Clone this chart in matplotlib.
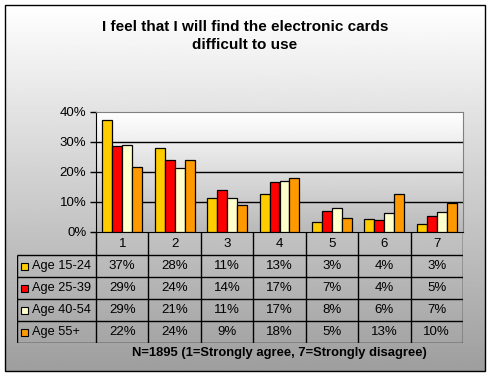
import numpy as np
import matplotlib
matplotlib.use("Agg")
import matplotlib.pyplot as plt
from matplotlib.patches import Rectangle

plt.rcParams['font.family'] = ['Liberation Sans', 'DejaVu Sans']

# ----- DATA -----
categories = ["1", "2", "3", "4", "5", "6", "7"]
groups = ["Age 15-24", "Age 25-39", "Age 40-54", "Age 55+"]
age_15_24 = [37.2, 27.9, 11.2, 12.6, 3.2, 4.2, 2.6]
age_25_39 = [28.6, 23.9, 13.9, 16.6, 6.9, 3.9, 5.2]
age_40_54 = [28.9, 21.2, 11.2, 17.0, 7.9, 6.2, 6.6]
age_55_up = [21.6, 23.9, 8.9, 17.9, 4.6, 12.6, 9.6]
series = [age_15_24, age_25_39, age_40_54, age_55_up]
colors = ["#FFCC00", "#FF0000", "#FFFFCC", "#FF9900"]
yticks = [0, 10, 20, 30, 40]
title = "I feel that I will find the electronic cards\ndifficult to use"
note = "N=1895 (1=Strongly agree, 7=Strongly disagree)"

W, H = 491, 377
fig = plt.figure(figsize=(W / 100, H / 100), dpi=100)
fig.patch.set_facecolor("white")

def rect(x0, y0, x1, y1):
    # pixel box (top-left origin) -> figure fraction
    return [x0 / W, (H - y1) / H, (x1 - x0) / W, (y1 - y0) / H]

# background frame with gradient
bg = fig.add_axes([0, 0, 1, 1])
bg.set_xlim(0, W)
bg.set_ylim(H, 0)
bg.axis("off")
grad = np.linspace(255, 158, 256).reshape(-1, 1) / 255.0
bg.imshow(grad, cmap="gray", vmin=0, vmax=1, extent=[5, 485, 371, 5], aspect="auto")
bg.add_patch(Rectangle((5, 5), 480, 366, fill=False, ec="black", lw=1))
bg.text(245, 36, title, ha="center", va="center", fontsize=11,
        fontweight="bold", linespacing=1.42)

# plot area
L, T, R, B = 96, 112, 463, 232
ax = fig.add_axes(rect(L, T, R, B))
ax.set_facecolor("none")
pgrad = np.linspace(255, 185, 256).reshape(-1, 1) / 255.0
ax.imshow(pgrad, cmap="gray", vmin=0, vmax=1, extent=[0, 1, 0, 1],
          transform=ax.transAxes, aspect="auto", zorder=0)

x = np.arange(len(categories))
bw = 0.19
for i, (vals, c) in enumerate(zip(series, colors)):
    ax.bar(x + (i - 1.5) * bw, vals, bw, color=c, edgecolor="black",
           linewidth=0.9, zorder=3)

ax.set_xlim(-0.5, len(categories) - 0.5)
ax.set_ylim(0, 40)
ax.set_yticks(yticks)
ax.set_yticklabels([f"{t}%" for t in yticks], fontsize=9.5)
ax.set_xticks([])
for t in yticks[1:-1]:
    ax.axhline(t, color="black", lw=1, zorder=2)
ax.tick_params(axis="y", length=4, width=1, pad=3)
ax.spines["left"].set_color("black")
ax.spines["bottom"].set_color("black")
ax.spines["top"].set_color("#808080")
ax.spines["right"].set_color("#808080")

# data table under the plot
TL = 17
rows_y = [232, 255, 277, 299, 321, 343]
colw = (R - L) / len(categories)
tab = fig.add_axes(rect(TL, 232, R, 343))
tab.set_xlim(-0.5 - (L - TL) / colw, len(categories) - 0.5)
tab.set_ylim(343, 232)
tab.axis("off")
left = -0.5 - (L - TL) / colw
lk = dict(color="black", lw=1, solid_capstyle="butt")
# vertical lines
for k in range(len(categories) + 1):
    tab.plot([k - 0.5, k - 0.5], [232, 343], **lk)
tab.plot([left, left], [255, 343], **lk)
for yy in rows_y[1:]:
    tab.plot([left, len(categories) - 0.5], [yy, yy], **lk)
for k, cat in enumerate(categories):
    tab.text(k, 244, cat, ha="center", va="center", fontsize=9.5)
px = (len(categories) - 0.5 - left) / (R - TL)
for r, (g, vals, c) in enumerate(zip(groups, series, colors)):
    yc = (rows_y[r + 1] + rows_y[r + 2]) / 2
    tab.add_patch(Rectangle((left + 4 * px, yc - 3.5), 7 * px, 7,
                            fc=c, ec="black", lw=0.8))
    tab.text(left + 15 * px, yc, g, ha="left", va="center", fontsize=9.2)
    for k, v in enumerate(vals):
        tab.text(k, yc, f"{round(v):.0f}%", ha="center", va="center", fontsize=9.5)

bg.text((L + R) / 2, 353, note, ha="center", va="center", fontsize=9.4,
        fontweight="bold")

fig.savefig("out.png", dpi=100)
